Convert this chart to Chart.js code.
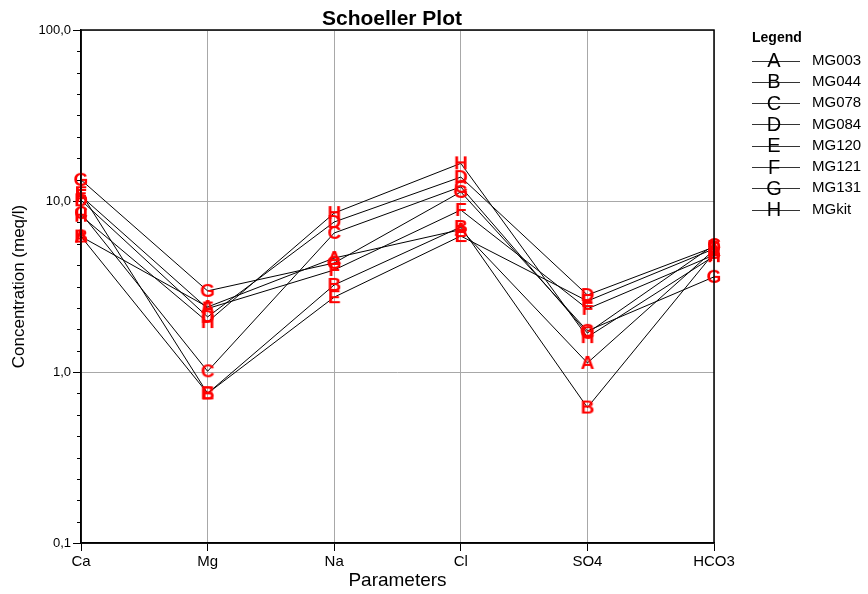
<!DOCTYPE html>
<html>
<head>
<meta charset="utf-8">
<script src="https://cdn.jsdelivr.net/npm/chart.js@4.4.1/dist/chart.umd.min.js"></script>
<style>
html,body{margin:0;padding:0;background:#fff;}
canvas{display:block;}
</style>
</head>
<body>
<canvas id="c" width="868" height="594"></canvas>
<script>
// ---- data ----
const categories = ['Ca', 'Mg', 'Na', 'Cl', 'SO4', 'HCO3'];
const seriesNames = ['MG003', 'MG044', 'MG078', 'MG084', 'MG120', 'MG121', 'MG131', 'MGkit'];
const markerLetters = ['A', 'B', 'C', 'D', 'E', 'F', 'G', 'H'];
const MG003 = [6.2, 2.40, 4.64, 6.8, 1.13, 5.17];
const MG044 = [6.2, 0.75, 3.23, 7.05, 0.62, 4.97];
const MG078 = [8.5, 1.01, 6.5, 12.1, 1.69, 5.53];
const MG084 = [10.1, 2.10, 7.54, 13.8, 2.82, 5.38];
const MG120 = [11.1, 0.75, 2.74, 6.24, 2.60, 5.25];
const MG121 = [10.7, 2.35, 3.95, 8.86, 2.34, 4.83];
const MG131 = [13.3, 2.98, 4.34, 11.3, 1.74, 3.60];
const MGkit = [8.2, 1.96, 8.5, 16.6, 1.60, 4.76];
const seriesValues = [MG003, MG044, MG078, MG084, MG120, MG121, MG131, MGkit];
const yMajorTicks = [0.1, 1, 10, 100];
const yTickLabels = ['0,1', '1,0', '10,0', '100,0'];
const chartTitle = 'Schoeller Plot';
const xTitle = 'Parameters';
const yTitle = 'Concentration (meq/l)';
const legendTitle = 'Legend';

const FONT = 'Arial, "Liberation Sans", sans-serif';

function letterImage(ch, color, font) {
  const cv = document.createElement('canvas');
  cv.width = 26; cv.height = 26;
  const g = cv.getContext('2d');
  g.fillStyle = color;
  g.font = font;
  g.textAlign = 'center';
  g.textBaseline = 'middle';
  g.fillText(ch, 13, 14);
  return cv;
}

const datasets = [];
seriesValues.forEach((vals, i) => {
  datasets.push({
    label: seriesNames[i],
    data: vals,
    borderColor: '#000',
    borderWidth: 1,
    pointRadius: 0,
    pointHoverRadius: 0,
    fill: false,
    tension: 0,
    order: 2
  });
});
seriesValues.forEach((vals, i) => {
  datasets.push({
    label: seriesNames[i] + ' marker',
    data: vals,
    showLine: false,
    pointStyle: letterImage(markerLetters[i], '#ff0000', 'bold 19px ' + FONT),
    pointRadius: 10,
    order: 1
  });
});

const extras = {
  id: 'extras',
  afterDraw(chart) {
    const ctx = chart.ctx;
    const a = chart.chartArea;
    const y = chart.scales.y;
    ctx.save();
    // minor ticks (evenly spaced, 8 per decade)
    ctx.strokeStyle = '#000';
    ctx.lineWidth = 1;
    for (let e = -1; e < 2; e++) {
      for (let k = 1; k < 8; k++) {
        const py = Math.round(y.getPixelForValue(Math.pow(10, e + k / 8))) + 0.5;
        ctx.beginPath();
        ctx.moveTo(a.left - 4, py);
        ctx.lineTo(a.left, py);
        ctx.stroke();
      }
    }
    // frame
    ctx.strokeStyle = '#000';
    ctx.lineWidth = 1.5;
    ctx.strokeRect(a.left, a.top, a.right - a.left, a.bottom - a.top);
    // title
    ctx.fillStyle = '#000';
    ctx.font = 'bold 21px ' + FONT;
    ctx.textAlign = 'center';
    ctx.textBaseline = 'middle';
    ctx.fillText(chartTitle, 392, 19);
    // legend
    ctx.font = 'bold 14px ' + FONT;
    ctx.textAlign = 'left';
    ctx.fillText(legendTitle, 752, 38);
    for (let i = 0; i < seriesNames.length; i++) {
      const ly = 60.5 + i * 21.3;
      ctx.strokeStyle = '#333';
      ctx.lineWidth = 1;
      ctx.beginPath();
      ctx.moveTo(752, Math.round(ly) + 0.5);
      ctx.lineTo(800, Math.round(ly) + 0.5);
      ctx.stroke();
      ctx.fillStyle = '#000';
      ctx.font = '20px ' + FONT;
      ctx.textAlign = 'center';
      ctx.fillText(markerLetters[i], 774, ly + 1);
      ctx.font = '15px ' + FONT;
      ctx.textAlign = 'left';
      ctx.fillText(seriesNames[i], 812, ly);
    }
    ctx.restore();
  }
};

new Chart(document.getElementById('c'), {
  type: 'line',
  data: { labels: categories, datasets: datasets },
  options: {
    responsive: false,
    animation: false,
    events: [],
    layout: { padding: { left: 0, right: 154, top: 30, bottom: 0 } },
    plugins: { legend: { display: false }, title: { display: false }, tooltip: { enabled: false } },
    scales: {
      x: {
        type: 'category',
        offset: false,
        afterFit: s => { s.height = 51; },
        grid: {
          color: '#a8a8a8',
          lineWidth: 1,
          drawTicks: true,
          tickLength: 8,
          tickColor: '#000'
        },
        border: { color: '#000', width: 1.5 },
        ticks: { color: '#000', font: { family: FONT, size: 15 }, padding: 2, maxRotation: 0 },
        title: { display: true, text: xTitle, color: '#000', font: { family: FONT, size: 19 }, padding: { top: 0, bottom: 2 } }
      },
      y: {
        type: 'logarithmic',
        min: 0.1,
        max: 100,
        afterFit: s => { s.width = 81; },
        afterBuildTicks: s => {
          s.ticks = yMajorTicks.map(v => ({ value: v, major: true }));
        },
        grid: {
          color: '#a8a8a8',
          lineWidth: 1,
          tickLength: 8,
          tickColor: '#000'
        },
        border: { color: '#000', width: 1.5 },
        ticks: {
          color: '#000',
          font: { family: FONT, size: 13 },
          padding: 2,
          autoSkip: false,
          callback: (v) => {
            const idx = yMajorTicks.findIndex(m => Math.abs(m - v) / m < 1e-6);
            return idx >= 0 ? yTickLabels[idx] : '';
          }
        },
        title: { display: true, text: yTitle, color: '#000', font: { family: FONT, size: 17 }, padding: { top: 9, bottom: 0 } }
      }
    }
  },
  plugins: [extras]
});
</script>
</body>
</html>
